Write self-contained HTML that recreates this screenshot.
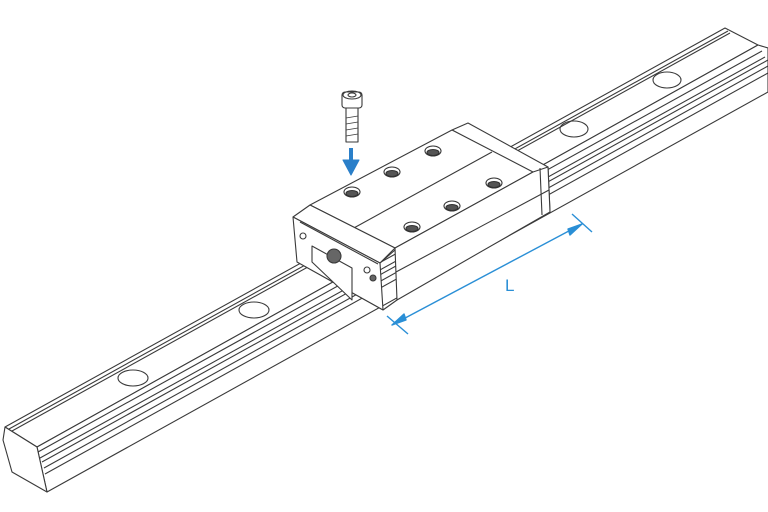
<!DOCTYPE html>
<html><head><style>html,body{margin:0;padding:0;background:#fff}svg{display:block}</style></head>
<body>
<svg width="768" height="512" viewBox="0 0 768 512" xmlns="http://www.w3.org/2000/svg" fill="none" stroke="#3a3a3a" stroke-width="1.1" stroke-linejoin="round">
<!-- rail -->
<polygon points="5,427 725,28 758,45 37,447" fill="#fff"/>
<polygon points="37,447 758,45 768,48 768,92 47,492" fill="#fff"/>
<polygon points="5,427 37,447 47,492 12,472 3,440" fill="#fff"/>
<line x1="12" y1="431" x2="730" y2="33"/>
<line x1="9" y1="429" x2="728" y2="31"/>
<line x1="38" y1="452" x2="762" y2="51"/>
<line x1="40" y1="458" x2="765" y2="57"/>
<line x1="42" y1="462" x2="768" y2="60"/>
<line x1="44" y1="468" x2="768" y2="66"/>
<line x1="45" y1="474" x2="768" y2="73"/>
<ellipse cx="133" cy="378" rx="15" ry="8"/>
<ellipse cx="254" cy="310" rx="15" ry="8"/>
<ellipse cx="574" cy="129" rx="14" ry="8"/>
<ellipse cx="667" cy="80" rx="14" ry="8"/>
<!-- block -->
<polygon points="468,123 548,167 550,212 538,218 530,172 452,130" fill="#fff"/>
<polygon points="310,205 452,130 533,172 395,248" fill="#fff"/>
<line x1="352" y1="229" x2="492" y2="152"/>
<polygon points="395,248 533,172 548,167 550,212 397,300" fill="#fff"/>
<line x1="396" y1="272" x2="549" y2="190"/>
<line x1="540" y1="168" x2="542" y2="215"/>
<polygon points="293,217 310,205 395,248 380,263" fill="#fff"/>
<polygon points="293,217 380,263 383,310 297,262" fill="#fff"/>
<line x1="380" y1="263" x2="395" y2="250"/>
<line x1="383" y1="310" x2="397" y2="300"/>
<line x1="300" y1="222" x2="378" y2="264"/>
<polygon points="312,246 352,268 352,300 312,262" fill="#fff"/>
<circle cx="334" cy="256" r="7" fill="#666"/>
<circle cx="303" cy="236" r="3"/><circle cx="367" cy="270" r="3"/><circle cx="373" cy="278" r="3" fill="#666"/>
<!-- holes -->
<g stroke="#333">
<g fill="#fff"><ellipse cx="352" cy="192" rx="8" ry="5"/><ellipse cx="392" cy="172" rx="8" ry="5"/><ellipse cx="433" cy="151" rx="8" ry="5"/>
<ellipse cx="412" cy="227" rx="8" ry="5"/><ellipse cx="452" cy="206" rx="8" ry="5"/><ellipse cx="494" cy="183" rx="8" ry="5"/></g>
<g fill="#555"><ellipse cx="352" cy="193.5" rx="6" ry="3"/><ellipse cx="392" cy="173.5" rx="6" ry="3"/><ellipse cx="433" cy="152.5" rx="6" ry="3"/>
<ellipse cx="412" cy="228.5" rx="6" ry="3"/><ellipse cx="452" cy="207.5" rx="6" ry="3"/><ellipse cx="494" cy="184.5" rx="6" ry="3"/></g>
</g>
<!-- screw -->
<rect x="342" y="92" width="20" height="16" rx="3" fill="#fff"/>
<ellipse cx="352" cy="95" rx="9" ry="4"/>
<ellipse cx="352" cy="95" rx="4" ry="2"/>
<rect x="346" y="108" width="12" height="34" fill="#fff"/>
<g stroke-width="0.8"><line x1="346" y1="118" x2="358" y2="116"/><line x1="346" y1="124" x2="358" y2="122"/><line x1="346" y1="130" x2="358" y2="128"/><line x1="346" y1="136" x2="358" y2="134"/></g>
<!-- arrow -->
<line x1="351" y1="148" x2="351" y2="162" stroke="#2a7fc9" stroke-width="4"/>
<polygon points="343,160 359,160 351,175" fill="#2a7fc9" stroke="#2a7fc9"/>
<!-- dimension -->
<g stroke="#2a8fd6" stroke-width="1.4">
<line x1="392" y1="325" x2="582" y2="224"/>
<line x1="387" y1="316" x2="408" y2="334"/>
<line x1="572" y1="214" x2="592" y2="232"/>
<polygon points="392,325 404,314 406,320" fill="#2a8fd6"/>
<polygon points="582,224 568,229 570,235" fill="#2a8fd6"/>
</g>
<text x="505" y="291" font-family="Liberation Sans, sans-serif" font-size="17" fill="#2a8fd6" stroke="none">L</text>
</svg>
</body></html>
